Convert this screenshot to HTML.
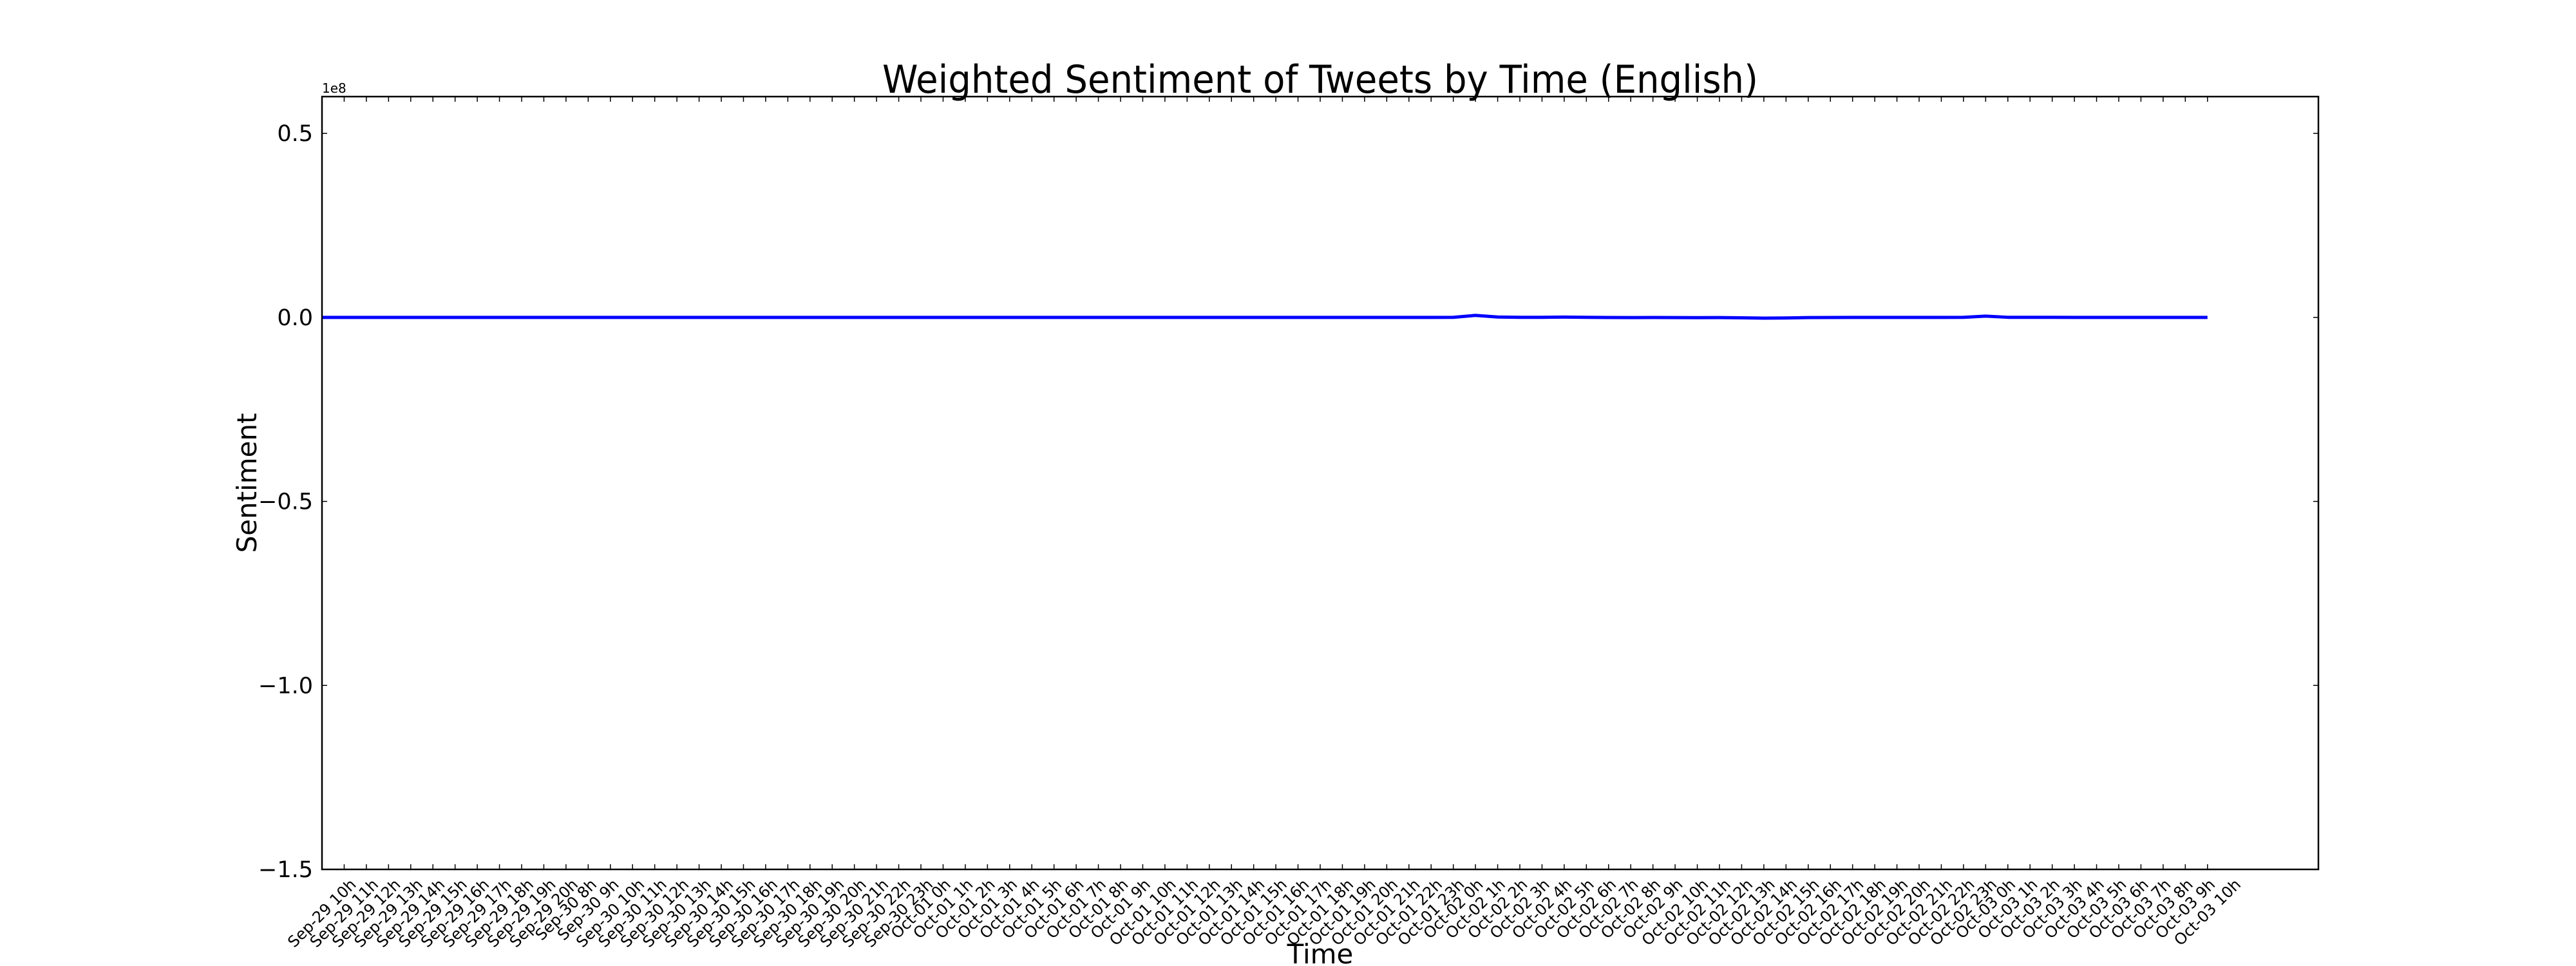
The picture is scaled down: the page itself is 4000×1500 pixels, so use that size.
<!DOCTYPE html>
<html><head><meta charset="utf-8"><style>html,body{margin:0;padding:0;background:#fff;}svg{display:block;}</style></head>
<body>
<svg id="chart" width="4000" height="1500" xmlns="http://www.w3.org/2000/svg" font-family="'DejaVu Sans','Liberation Sans',sans-serif">
<rect width="4000" height="1500" fill="#fff"/>
<text x="2050" y="144" font-size="60" text-anchor="middle" textLength="1360" lengthAdjust="spacingAndGlyphs">Weighted Sentiment of Tweets by Time (English)</text>
<text x="0" y="0" font-size="42" text-anchor="middle" transform="translate(398,750) rotate(-90)">Sentiment</text>
<text x="2050" y="1496" font-size="42" text-anchor="middle">Time</text>
<text x="500" y="144" font-size="20">1e8</text>
<g id="marks"></g>
<rect x="500" y="150" width="3100" height="1200" fill="none" stroke="#000" stroke-width="2.5"/>
</svg>
<script>
const dayLabels = [["Sep-29",10,20],["Sep-30",8,23],["Oct-01",0,23],["Oct-02",0,23],["Oct-03",0,10]];
const categories = [];
for (const d of dayLabels) for (let h=d[1]; h<=d[2]; h++) categories.push(d[0]+" "+h+"h");
// sentiment values in units of 1e8, one per category (86)
const sentSep29 = [0,0,0,0,0,0,0,0,0,0,0];
const sentSep30 = [0,0,0,0,0,0,0,0,0,0,0,0,0,0,0,0];
const sentOct01 = [0,0,0,0,0,0,0,0,0,0,0,0,0,0,0,0,0,0,0,0,0,0,0,0];
const sentOct02 = [0.0001,0.0055,0.001,0.0002,0.0003,0.0008,0.0001,-0.0003,-0.0005,-0.0002,-0.0004,-0.0008,-0.0005,-0.0012,-0.002,-0.0015,-0.0004,-0.0002,0,0,0,0,0,0.0001];
const sentOct03 = [0.0035,0.0003,0.0002,0.0001,-0.0001,-0.0001,0,0,0,0,0];
const sentiment = [].concat(sentSep29,sentSep30,sentOct01,sentOct02,sentOct03);
const yTicks = [0.5,0.0,-0.5,-1.0,-1.5];
const yTickLabels = ["0.5","0.0","\u22120.5","\u22121.0","\u22121.5"];
const xMin=0, xMax=90, yMin=-1.5, yMax=0.6;
const L=500,R=3600,T=150,B=1350;
const xs = i => L + (i-xMin)/(xMax-xMin)*(R-L);
const ys = v => B - (v-yMin)/(yMax-yMin)*(B-T);
const NS="http://www.w3.org/2000/svg";
const g=document.getElementById('marks');
function mk(tag,attrs){const e=document.createElementNS(NS,tag);for(const k in attrs)e.setAttribute(k,attrs[k]);g.appendChild(e);return e;}
const FS=24;
categories.forEach((c,i)=>{
  const x=xs(i);
  const t1=mk('line',{x1:x,x2:x,y1:B,y2:B-8,stroke:'#000','stroke-width':1.5});
  
  
  const t2=mk('line',{x1:x,x2:x,y1:T,y2:T+8,stroke:'#000','stroke-width':1.5});
  
  
  const tx=mk('text',{x:0,y:0,'font-size':FS,'text-anchor':'middle','dominant-baseline':'central'});
  tx.textContent=c;
  
  
  const len=tx.getComputedTextLength();
  const half=(len+FS*1.1)*0.7071/2;
  tx.setAttribute('transform',`translate(${x},${1360+half}) rotate(-45)`);
});
yTicks.forEach((v,i)=>{
  const y=ys(v);
  const a=mk('line',{x1:L,x2:L+8,y1:y,y2:y,stroke:'#000','stroke-width':1.5});
  
  
  const b=mk('line',{x1:R,x2:R-8,y1:y,y2:y,stroke:'#000','stroke-width':1.5});
  
  
  const t=mk('text',{x:L-14,y:y+12,'font-size':35,'text-anchor':'end'});
  t.textContent=yTickLabels[i];
  
  
});
const pts=sentiment.map((v,i)=>xs(i).toFixed(1)+","+ys(v).toFixed(2)).join(" ");
const line=mk('polyline',{points:pts,fill:'none',stroke:'#0000ff','stroke-width':5,'stroke-linejoin':'round'});


</script>
</body></html>
